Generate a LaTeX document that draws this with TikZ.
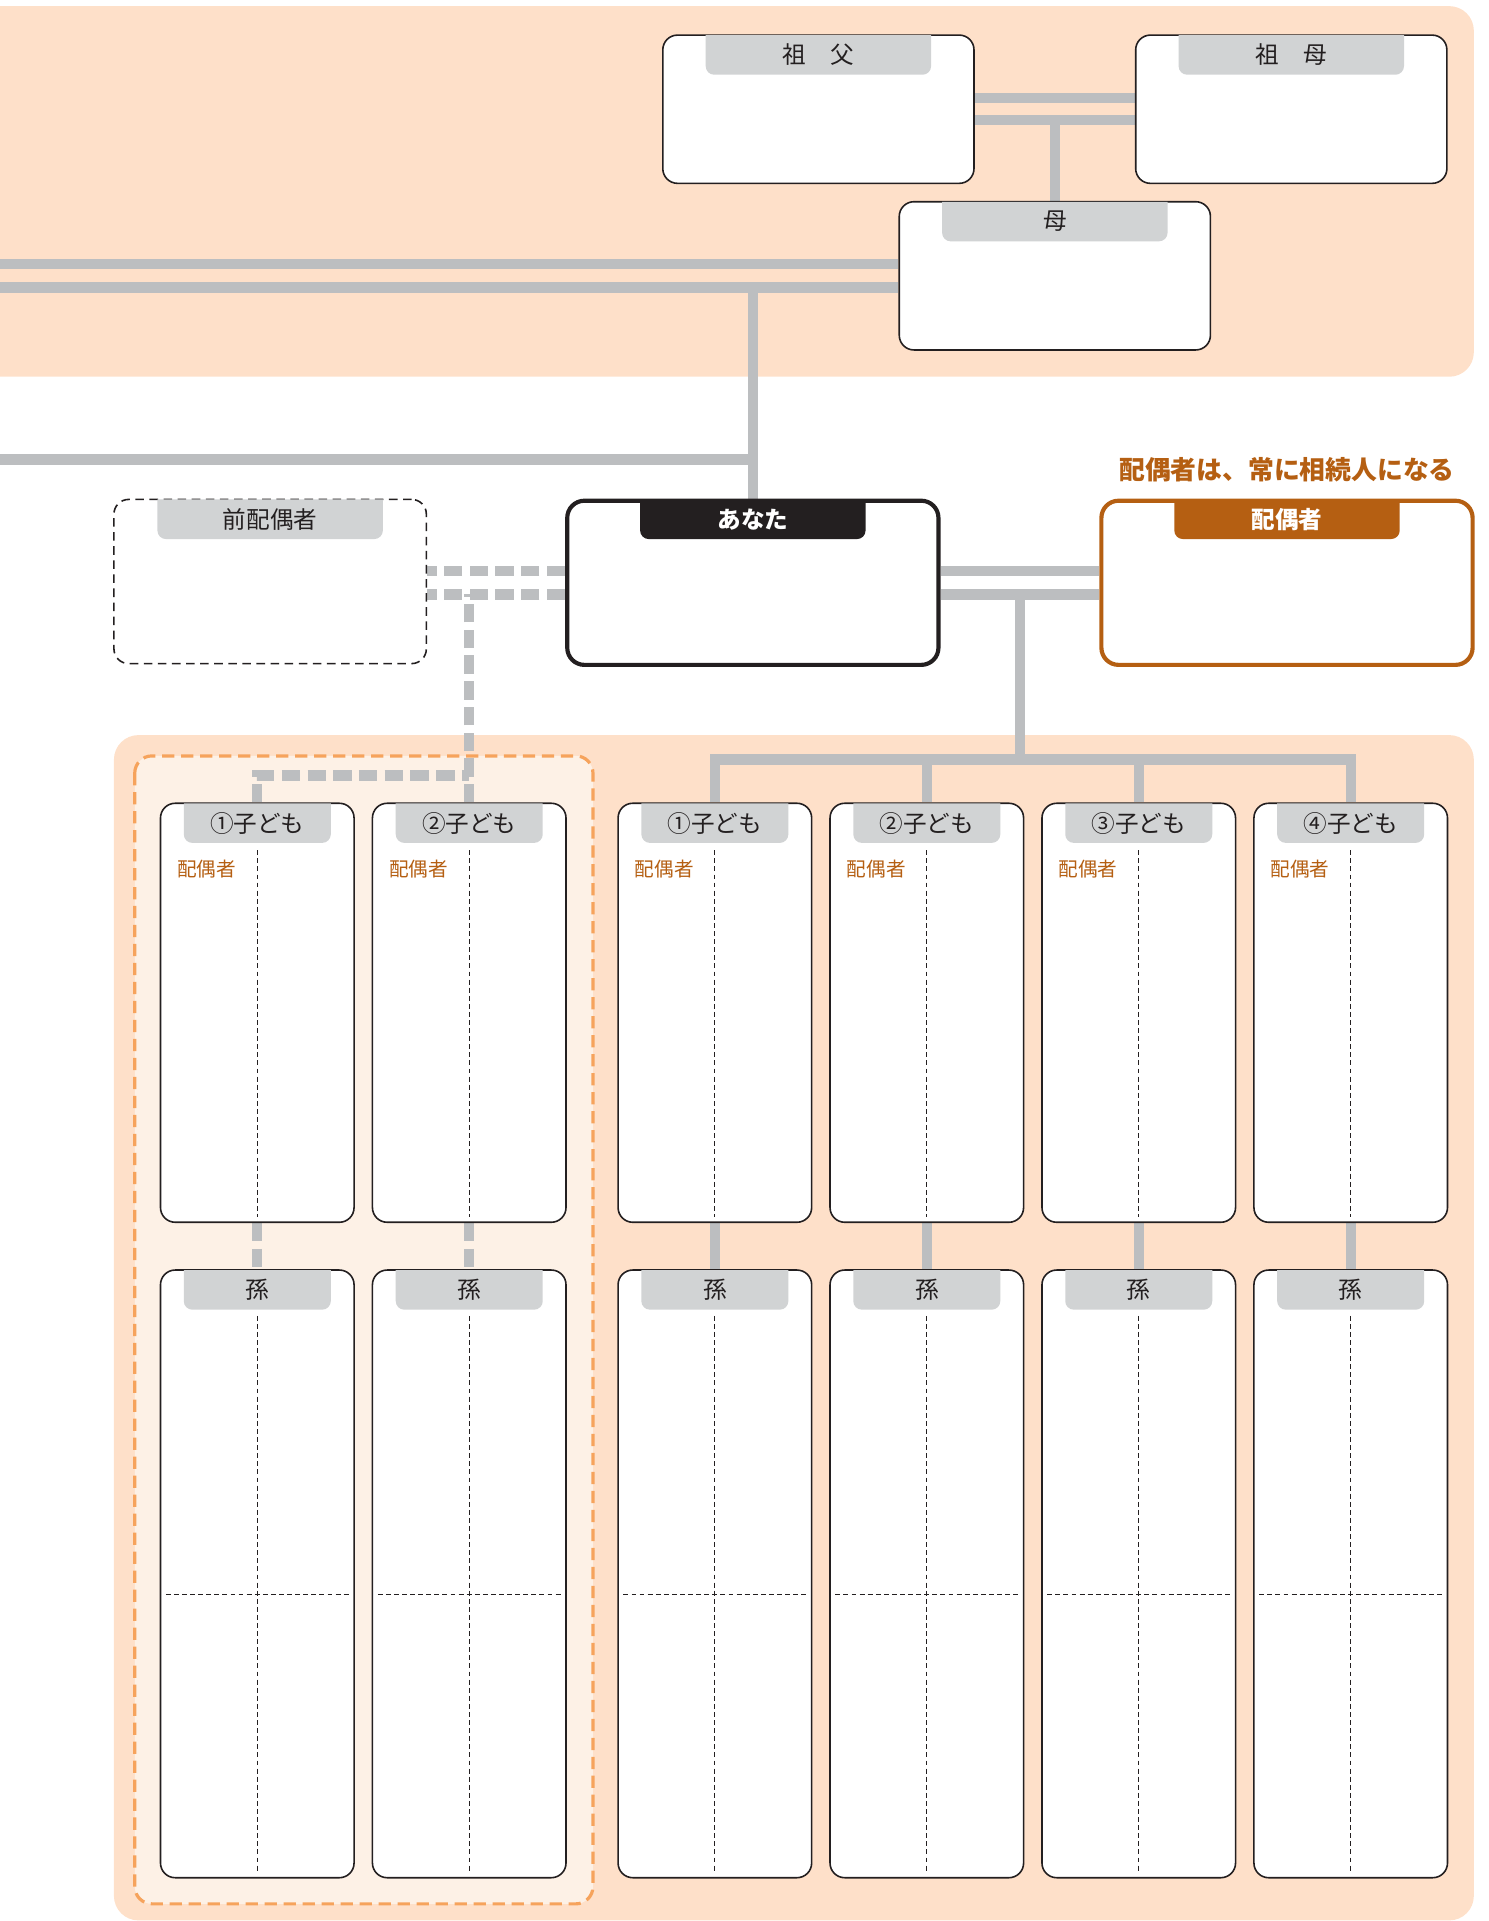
\documentclass[tikz,border=0pt]{standalone}
\usepackage{fontspec}
\setmainfont{Noto Sans CJK JP}
\usetikzlibrary{calc}
\pgfdeclarelayer{bg}
\pgfsetlayers{bg,main}
\newdimen\ux \ux=0.6124pt
\definecolor{peach}{HTML}{FEE0C9}
\definecolor{cream}{HTML}{FDF1E6}
\definecolor{odash}{HTML}{F6A35C}
\definecolor{conncol}{HTML}{BCBEC0}
\definecolor{tabg}{HTML}{D1D3D4}
\definecolor{obrown}{HTML}{B55F12}
\definecolor{ink}{HTML}{231F20}
\tikzset{
  plainbox/.style={draw=ink, fill=white, line width=1.3\ux, rounded corners=12\ux, inner sep=0pt},
  exbox/.style={plainbox, dash pattern=on 7\ux off 4.5\ux},
  mainbox/.style={plainbox, line width=3.4\ux, rounded corners=14\ux},
  spousebox/.style={mainbox, draw=obrown},
  tabfill-g/.style={fill=tabg},
  tabfill-k/.style={fill=ink},
  tabfill-o/.style={fill=obrown},
  tabtext-g/.style={text=ink, font=\fontsize{11.8}{14}\selectfont, inner sep=0pt},
  tabtext-k/.style={text=white, font=\fontsize{11.8}{14}\selectfont\bfseries, inner sep=0pt},
  tabtext-o/.style={tabtext-k},
  conn/.style={draw=conncol, line width=8.5\ux},
  gdash/.style={conn, dash pattern=on 15\ux off 6\ux},
  thindash/.style={draw=ink, line width=0.9\ux, dash pattern=on 4\ux off 2.6\ux},
  spl/.style={text=obrown, font=\fontsize{9.8}{12}\selectfont, inner sep=0pt, anchor=west},
  headl/.style={text=obrown, font=\fontsize{12.9}{15}\selectfont\bfseries, inner sep=0pt},
}
% #1 name #2 cx #3 top #4 w #5 h #6 box style #7 tab width #8 tab kind #9 text
\newcommand\pbox[9]{%
  \node[#6, minimum width=#4\ux, minimum height=#5\ux, anchor=north] (#1) at (#2,#3) {};
  \fill[tabfill-#8, rounded corners=7\ux] ($(#1.north)+(-#7/2,0.7)$) -- ++(0,32.3) -- ++(#7,0) -- ++(0,-32.3);
  \node[tabtext-#8] (#1-t) at ($(#1.north)+(0,16.8)$) {#9};
}
\newcommand\kid[4]{%
  \pbox{c#1}{#2}{655}{158}{342}{plainbox}{120}{g}{#3}
  \pbox{g#1}{#2}{1036}{158}{496}{plainbox}{120}{g}{孫}
  \node[spl] (c#1-s) at ([xshift=14\ux,yshift=-54\ux]c#1.north west) {配偶者};
  \draw[thindash] ([yshift=-39\ux]c#1.north) -- ([yshift=5\ux]c#1.south);
  \draw[thindash] ([yshift=-38\ux]g#1.north) -- ([yshift=4\ux]g#1.south);
  \draw[thindash] ([xshift=5\ux,yshift=-17\ux]g#1.west) -- ([xshift=-5\ux,yshift=-17\ux]g#1.east);
  \begin{pgfonlayer}{bg}\draw[#4] (c#1.south) -- (g#1.north);\end{pgfonlayer}
}
\begin{document}
\begin{tikzpicture}[x=0.6124pt,y=-0.6124pt]
\useasboundingbox (0,0) rectangle (1215,1568);
\begin{pgfonlayer}{bg}
  \fill[peach, rounded corners=20\ux] (-40,5) rectangle (1203,307.5);
  \fill[peach, rounded corners=20\ux] (93,600) rectangle (1203,1567.5);
  \draw[odash, fill=cream, line width=2.6\ux, dash pattern=on 10\ux off 5.5\ux, rounded corners=14\ux] (110,617) rectangle (484,1554);
\end{pgfonlayer}

\pbox{sofu}{668}{28}{254}{121}{plainbox}{184}{g}{祖　父}
\pbox{sobo}{1054}{28}{254}{121}{plainbox}{184}{g}{祖　母}
\pbox{haha}{861}{164}{254}{121}{plainbox}{184}{g}{母}
\pbox{mae}{220.5}{407}{255}{134}{exbox}{184}{g}{前配偶者}
\pbox{anata}{614.5}{407}{303}{134}{mainbox}{184}{k}{あなた}
\pbox{spouse}{1050.5}{407}{303}{134}{spousebox}{184}{o}{配偶者}
\node[headl] (note) at (1050.5,383) {配偶者は、常に相続人になる};

\kid{L1}{210}{①子ども}{gdash}
\kid{L2}{383}{②子ども}{gdash}
\kid{R1}{583.5}{①子ども}{conn}
\kid{R2}{756.5}{②子ども}{conn}
\kid{R3}{929.5}{③子ども}{conn}
\kid{R4}{1102.5}{④子ども}{conn}

\begin{pgfonlayer}{bg}
  % grandparents
  \coordinate (gp1) at ([yshift=9\ux]sofu.east);
  \coordinate (gp2) at ([yshift=-9\ux]sofu.east);
  \draw[conn] (gp1) -- (sobo.west |- gp1);
  \draw[conn] (gp2) -- (sobo.west |- gp2);
  \draw[conn] (haha.north) -- (haha.north |- gp2);
  % mother to the left
  \coordinate (edgeL) at (-5,0);
  \coordinate (hm1) at ([yshift=9.5\ux]haha.west);
  \coordinate (hm2) at ([yshift=-9.5\ux]haha.west);
  \draw[conn] (hm1) -- (edgeL |- hm1);
  \draw[conn] (hm2) -- (edgeL |- hm2);
  \draw[conn] (anata.north) -- (anata.north |- hm2);
  \coordinate (ex) at (-5,375);
  \draw[conn] (ex) -- (anata.north |- ex);
  % spouse
  \coordinate (a1) at ([yshift=9.5\ux]anata.east);
  \coordinate (a2) at ([yshift=-9.5\ux]anata.east);
  \draw[conn] (a1) -- (spouse.west |- a1);
  \draw[conn] (a2) -- (spouse.west |- a2);
  \coordinate (jm) at ($(a2)!0.5!(spouse.west |- a2)$);
  \coordinate (busL) at ([yshift=35\ux]cR1.north);
  \coordinate (busR) at ([yshift=35\ux]cR4.north);
  \draw[conn] (jm) -- (jm |- busL);
  \draw[conn, line join=miter] (cR1.north) -- (busL) -- (busR) -- (cR4.north);
  \draw[conn] (cR2.north) -- (cR2.north |- busL);
  \draw[conn] (cR3.north) -- (cR3.north |- busL);
  % former spouse
  \coordinate (p1) at ([yshift=9.5\ux]anata.west);
  \coordinate (p2) at ([yshift=-9.5\ux]anata.west);
  \draw[gdash] (p1) -- (mae.east |- p1);
  \draw[gdash] (p2) -- (mae.east |- p2);
  \draw[gdash] (cL2.north) -- (cL2.north |- p2);
  \coordinate (lb) at ([yshift=22\ux]cL1.north);
  \draw[gdash] (cL1.north) -- (lb) -- (lb -| cL2.north);
\end{pgfonlayer}
\end{tikzpicture}
\end{document}
